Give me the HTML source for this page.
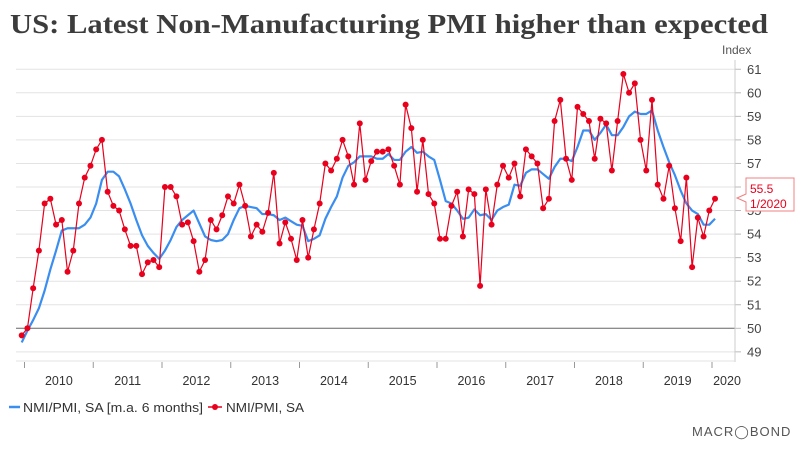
<!DOCTYPE html>
<html><head><meta charset="utf-8"><style>
html,body{margin:0;padding:0;background:#fff;}
svg{display:block;font-family:"Liberation Sans",sans-serif;}
</style></head><body>
<svg id="chart" width="800" height="450" viewBox="0 0 800 450">
<text x="10" y="33" font-family="Liberation Serif,serif" font-weight="bold" font-size="27" fill="#3c3c3c" textLength="758" lengthAdjust="spacingAndGlyphs">US: Latest Non-Manufacturing PMI higher than expected</text>
<text x="722" y="54" font-size="12" fill="#555">Index</text>
<g id="grid"></g>
<g id="yaxis"></g>
<g id="xaxis"></g>
<g id="series"></g>
<g>
<path d="M746,178 H794 V211 H746 V202 L737,198 L746,194 Z" fill="#fff" stroke="#f08080" stroke-width="1"/>
<text x="750" y="193" font-size="12" fill="#e8001c">55.5</text>
<text x="750" y="208" font-size="12" fill="#e8001c">1/2020</text>
</g>
<g>
<g>
<line x1="9" y1="407" x2="20" y2="407" stroke="#3a8ef0" stroke-width="2.5"/>
<text x="23" y="412" font-size="13" fill="#333" textLength="180" lengthAdjust="spacingAndGlyphs">NMI/PMI, SA [m.a. 6 months]</text>
</g>
<g>
<line x1="208" y1="407" x2="222" y2="407" stroke="#e8001c" stroke-width="1.5"/>
<circle cx="215" cy="407" r="3" fill="#e8001c"/>
<text x="226" y="412" font-size="13" fill="#333" textLength="78" lengthAdjust="spacingAndGlyphs">NMI/PMI, SA</text>
</g>
</g>
<text x="692" y="436" font-size="13" fill="#555" letter-spacing="1">MACR◯BOND</text>
</svg>
<script>
const yTicks=[49,50,51,52,53,54,55,56,57,58,59,60,61];
const years=["2010","2011","2012","2013","2014","2015","2016","2017","2018","2019","2020"];
const pmi=[49.7,50.0,51.7,53.3,55.3,55.5,54.4,54.6,52.4,53.3,55.3,56.4,56.9,57.6,58.0,55.8,55.2,55.0,54.2,53.5,53.5,52.3,52.8,52.9,52.6,56.0,56.0,55.6,54.4,54.5,53.7,52.4,52.9,54.6,54.2,54.8,55.6,55.3,56.1,55.2,
53.9,54.4,54.1,54.9,56.6,53.6,54.5,53.8,52.9,54.6,53.0,54.2,55.3,57.0,56.7,57.2,58.0,57.3,56.1,58.7,56.3,57.1,57.5,57.5,57.6,56.9,56.1,59.5,58.5,55.8,58.0,55.7,55.3,53.8,53.8,55.2,55.8,53.9,55.9,55.7,
51.8,55.9,54.4,56.1,56.9,56.4,57.0,55.6,57.6,57.3,57.0,55.1,55.5,58.8,59.7,57.2,56.3,59.4,59.1,58.8,57.2,58.9,58.7,56.7,58.8,60.8,60.0,60.4,58.0,56.7,59.7,56.1,55.5,56.9,55.1,53.7,56.4,52.6,54.7,53.9,55.0,55.5];
const ma=[49.4,49.9,50.35,50.85,51.6,52.5,53.3,54.15,54.25,54.25,54.25,54.4,54.7,55.3,56.3,56.65,56.65,56.45,55.9,55.3,54.6,53.95,53.5,53.2,52.95,53.3,53.75,54.3,54.6,54.8,55.0,54.45,53.9,53.75,53.7,53.75,54.0,54.6,55.1,55.2,
55.15,55.1,54.85,54.85,54.8,54.6,54.7,54.55,54.4,54.35,53.7,53.8,53.95,54.65,55.15,55.6,56.4,56.9,57.05,57.3,57.3,57.3,57.2,57.2,57.4,57.15,57.15,57.5,57.7,57.45,57.5,57.3,57.15,56.3,55.4,55.3,55.0,54.65,54.7,55.05,
54.8,54.85,54.6,55.0,55.15,55.25,56.1,56.05,56.6,56.75,56.75,56.55,56.35,56.85,57.2,57.2,57.1,57.7,58.4,58.4,58.0,58.3,58.65,58.2,58.2,58.55,59.0,59.2,59.1,59.1,59.25,58.4,57.7,57.05,56.5,55.85,55.3,55.0,54.85,54.4,54.4,54.65];
const NS="http://www.w3.org/2000/svg";
function yS(v){return 328.3-(v-50)*23.55;}
function xS(i){return 21.7+i*5.73;}
function xYear(k){return 24.5+k*68.75;}
function mk(tag,at,parent){const e=document.createElementNS(NS,tag);for(const k in at)e.setAttribute(k,at[k]);parent.appendChild(e);return e;}
const grid=document.getElementById('grid'),yax=document.getElementById('yaxis'),xax=document.getElementById('xaxis'),ser=document.getElementById('series');
yTicks.forEach(v=>{
  const l=mk('line',{x1:16,x2:735,y1:yS(v),y2:yS(v),stroke:v===50?'#666':'#e3e3e3','stroke-width':1},grid);
  
  
  mk('line',{x1:735,x2:741,y1:yS(v),y2:yS(v),stroke:'#bbb'},yax);
  const t=mk('text',{x:747,y:yS(v)+4.5,'font-size':13,fill:'#444'},yax);
  t.textContent=v;
  
  
});
mk('line',{x1:735,x2:735,y1:60,y2:362,stroke:'#ccc'},yax);
mk('line',{x1:16,x2:735,y1:361,y2:361,stroke:'#e3e3e3'},xax);
years.forEach((y,k)=>{
  mk('line',{x1:xYear(k),x2:xYear(k),y1:362,y2:368,stroke:'#999'},xax);
  const cx=k<10?xYear(k)+34.4:727;
  const t=mk('text',{x:cx,y:385,'font-size':12.5,fill:'#333','text-anchor':'middle'},xax);
  t.textContent=y;
  
  
});
const pm=mk('polyline',{points:ma.map((v,i)=>xS(i)+','+yS(v)).join(' '),fill:'none',stroke:'#3a8ef0','stroke-width':2.2,'stroke-linejoin':'round'},ser);


const pp=mk('polyline',{points:pmi.map((v,i)=>xS(i)+','+yS(v)).join(' '),fill:'none',stroke:'#e8001c','stroke-width':1.2},ser);


pmi.forEach((v,i)=>{
  const c=mk('circle',{cx:xS(i),cy:yS(v),r:3,fill:'#e8001c'},ser);
  
  
});
</script>
</body></html>
